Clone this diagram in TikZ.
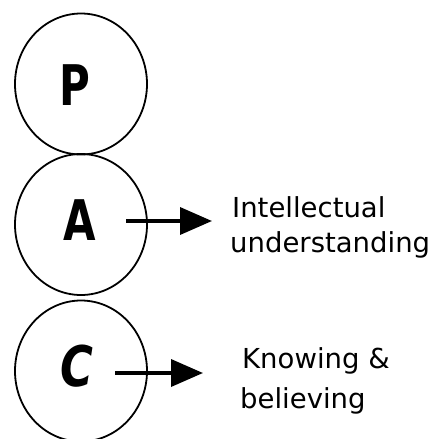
\documentclass[tikz,border=0pt]{standalone}
\usepackage{fontspec}
\usepackage{graphicx}
\setmainfont{DejaVu Sans}
\usetikzlibrary{shapes.geometric,arrows.meta}
\tikzset{
  ring/.style={draw, ellipse, line width=1.8pt, minimum width=132pt, minimum height=141pt, inner sep=0pt},
  letter/.style={font=\fontsize{56}{56}\selectfont\bfseries},
  pointer/.style={line width=3.6pt, -{Triangle[length=32pt,width=27pt]}},
  lbl/.style={font=\fontsize{27.5}{27.5}\selectfont, anchor=base west, inner sep=0pt}
}
\begin{document}
\begin{tikzpicture}[x=1pt,y=-1pt]
\useasboundingbox (0,0) rectangle (435,439);
\node[ring] (P) at (81,84) {};
\node[ring] (A) at (81,224.5) {};
\node[ring] (C) at (81,371) {};
\node[letter] (Pl) at (75,85) {\scalebox{0.75}[1]{P}};
\node[letter] (Al) at (80,220) {\scalebox{0.75}[1]{A}};
\node[letter] (Cl) at (77,366) {\scalebox{0.8}[1]{\itshape C}};
\coordinate (as) at (126,221);
\coordinate (ae) at (212,221);
\coordinate (cs) at (115,373);
\coordinate (ce) at (203,373);
\draw[pointer] (as) -- (ae);
\draw[pointer] (cs) -- (ce);
\node[lbl] (t1) at (232,217) {Intellectual};
\node[lbl] (t2) at (230,252) {understanding};
\node[lbl] (t3) at (242,368) {Knowing \&};
\node[lbl] (t4) at (240,408) {believing};
\end{tikzpicture}
\end{document}
